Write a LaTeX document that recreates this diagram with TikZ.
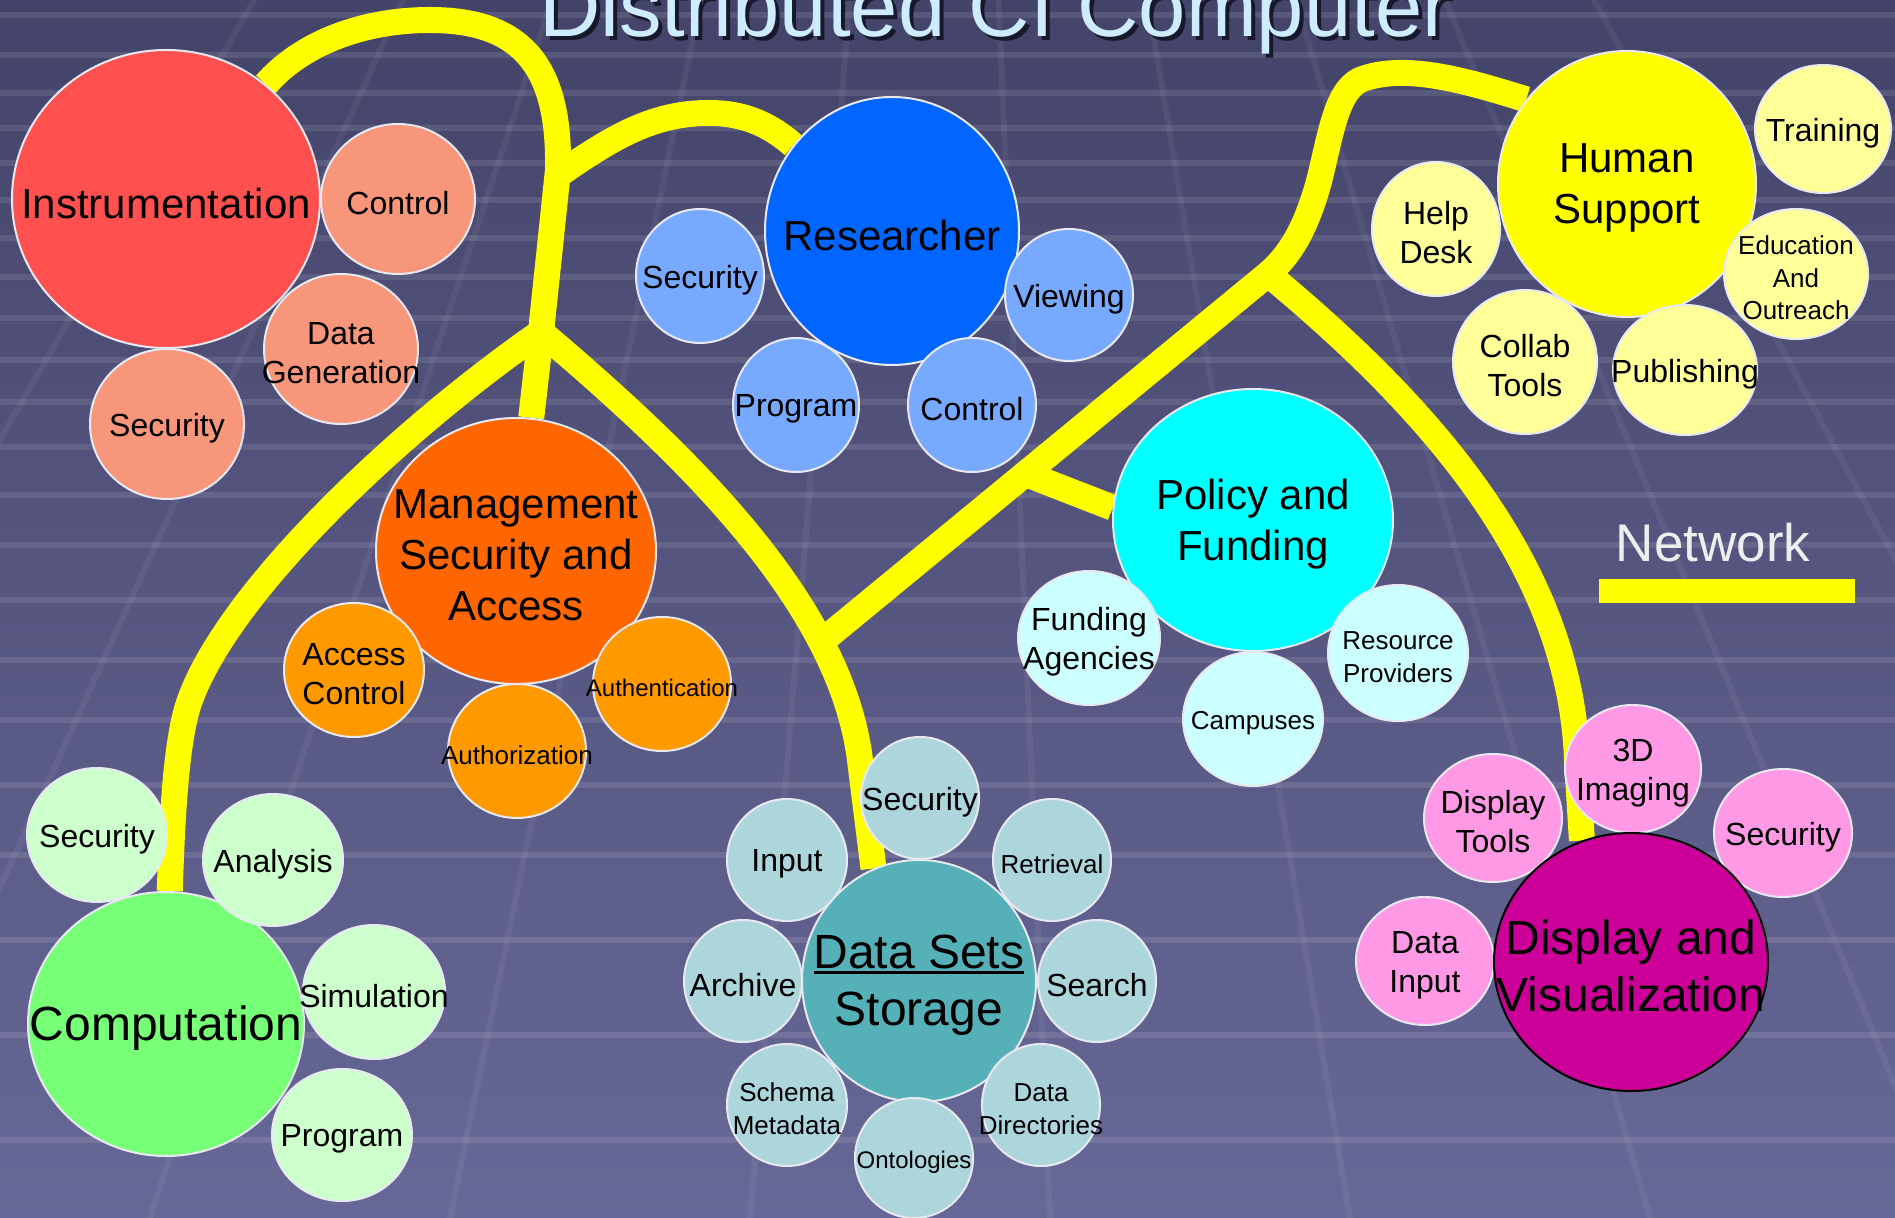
\documentclass[tikz,border=0pt]{standalone}
\usepackage{fontspec}
\setmainfont{Liberation Sans}
\usetikzlibrary{shapes.geometric}

\pgfdeclarelayer{bg}
\pgfdeclarelayer{wire}
\pgfsetlayers{bg,wire,main}

\definecolor{bgtop}{RGB}{68,68,106}
\definecolor{bgbot}{RGB}{104,104,152}
\definecolor{rim}{RGB}{232,232,240}
\definecolor{netyellow}{RGB}{255,255,0}
\definecolor{titleblue}{RGB}{206,236,255}
\definecolor{titleshadow}{RGB}{24,24,44}
\definecolor{netwhite}{RGB}{238,238,238}
\definecolor{instred}{RGB}{255,80,80}
\definecolor{instsub}{RGB}{247,150,122}
\definecolor{resblue}{RGB}{0,102,255}
\definecolor{ressub}{RGB}{119,170,255}
\definecolor{hsyellow}{RGB}{255,255,0}
\definecolor{hssub}{RGB}{255,255,153}
\definecolor{mgmtorange}{RGB}{255,102,0}
\definecolor{mgmtsub}{RGB}{255,153,0}
\definecolor{polcyan}{RGB}{0,255,255}
\definecolor{polsub}{RGB}{204,255,255}
\definecolor{compgreen}{RGB}{119,255,119}
\definecolor{compsub}{RGB}{204,255,204}
\definecolor{dsteal}{RGB}{85,176,184}
\definecolor{dssub}{RGB}{172,214,220}
\definecolor{dvmag}{RGB}{204,0,153}
\definecolor{dvsub}{RGB}{255,153,230}

\newcommand{\thickul}[1]{\setbox0\hbox{#1}\rlap{\rule[-3pt]{\wd0}{1.6pt}}\box0}
\newcommand{\shadowed}[1]{\rlap{\kern2pt\raisebox{-2pt}{\color{titleshadow}#1}}#1}

\begin{document}
\begin{tikzpicture}
[x=0.5pt,y=-0.5pt,
 bub/.style={ellipse,draw=rim,line width=1pt,inner sep=0pt},
 dim/.style 2 args={minimum width=#1pt,minimum height=#2pt},
 txtbig/.style={font=\fontsize{21}{25.5}\selectfont,align=center,yshift=-2pt},
 txtlarge/.style={font=\fontsize{24}{28.5}\selectfont,align=center,yshift=-2pt},
 txtsm/.style={font=\fontsize{16}{19.5}\selectfont,align=center,yshift=-2pt},
 txtxs/.style={font=\fontsize{13}{16.3}\selectfont,align=center,yshift=-2pt},
 txtxxs/.style={font=\fontsize{12}{15}\selectfont,align=center,yshift=-2pt},
 net/.style={draw=netyellow,line width=13pt,line join=round},
 gridline/.style={draw=white,opacity=0.1,line width=3pt},
 gridslant/.style={draw=white,opacity=0.06,line width=3pt}]

\useasboundingbox (0,0) rectangle (1895,1218);

% background
\begin{pgfonlayer}{bg}
\shade[top color=bgtop,bottom color=bgbot] (0,0) rectangle (1895,1218);
\begin{scope}
\clip (0,0) rectangle (1895,1218);
\foreach \y in {15,55,93,128,163,200,238,277,318,360,402,447,495,545,600,660,720,785,855,940,1035,1140}
\draw[gridline] (0,\y) -- (1895,\y);
\foreach \x in {-450,-150,...,2250}
\draw[gridslant] (948,-1200) -- (\x,1218);
\end{scope}
\end{pgfonlayer}

% title
\node[anchor=base,font=\fontsize{42.5}{50}\selectfont,text=titleblue] (title) at (995,37) {\shadowed{Distributed CI Computer}};

% main bubbles
\node[bub,fill=instred,dim={154}{149},label={[txtbig]center:Instrumentation}] (inst) at (166,199) {};
\node[bub,fill=resblue,dim={127}{134},label={[txtbig]center:Researcher}] (res) at (892,231) {};
\node[bub,fill=hsyellow,dim={129}{133},label={[txtbig]center:Human\\Support}] (hs) at (1627,184) {};
\node[bub,fill=mgmtorange,dim={140}{133},label={[txtbig]center:Management\\Security and\\Access}] (mgmt) at (516,551) {};
\node[bub,fill=polcyan,dim={140}{131},label={[txtbig]center:Policy and\\Funding}] (pol) at (1253,520) {};
\node[bub,fill=compgreen,dim={138}{132},label={[txtlarge]center:Computation}] (comp) at (166,1024) {};
\node[bub,fill=dsteal,dim={117}{121},label={[txtlarge]center:\thickul{Data Sets}\\Storage}] (dss) at (919,981) {};

% instrumentation
\node[bub,fill=instsub,dim={77}{75},label={[txtsm]center:Control}] (ictl) at (398,199) {};
\node[bub,fill=instsub,dim={77}{75},label={[txtsm]center:Data\\Generation}] (idg) at (341,349) {};
\node[bub,fill=instsub,dim={77}{75},label={[txtsm]center:Security}] (isec) at (167,424) {};

% researcher
\node[bub,fill=ressub,dim={64}{67},label={[txtsm]center:Security}] (rsec) at (700,276) {};
\node[bub,fill=ressub,dim={64}{66},label={[txtsm]center:Viewing}] (rview) at (1069,295) {};
\node[bub,fill=ressub,dim={63}{67},label={[txtsm]center:Program}] (rprog) at (796,405) {};
\node[bub,fill=ressub,dim={64}{67},label={[txtsm]center:Control}] (rctl) at (972,405) {};

% human support
\node[bub,fill=hssub,dim={68}{64},label={[txtsm]center:Training}] (htrain) at (1823,129) {};
\node[bub,fill=hssub,dim={64}{67},label={[txtsm]center:Help\\Desk}] (hhelp) at (1436,229) {};
\node[bub,fill=hssub,dim={72}{65},label={[txtxs]center:Education\\And\\Outreach}] (hedu) at (1796,274) {};
\node[bub,fill=hssub,dim={72}{72},label={[txtsm]center:Collab\\Tools}] (hcollab) at (1525,362) {};
\node[bub,fill=hssub,dim={72}{65},label={[txtsm]center:Publishing}] (hpub) at (1685,370) {};

% management
\node[bub,fill=mgmtsub,dim={70}{67},label={[txtsm]center:Access\\Control}] (macc) at (354,670) {};
\node[bub,fill=mgmtsub,dim={69}{67},label={[txtxxs]center:Authentication}] (mauthn) at (662,684) {};
\node[bub,fill=mgmtsub,dim={69}{67},label={[txtxs]center:Authorization}] (mauthz) at (517,751) {};

% policy
\node[bub,fill=polsub,dim={71}{67},label={[txtsm]center:Funding\\Agencies}] (pfund) at (1089,638) {};
\node[bub,fill=polsub,dim={70}{68},label={[txtxs]center:Resource\\Providers}] (pres) at (1398,653) {};
\node[bub,fill=polsub,dim={70}{67},label={[txtxs]center:Campuses}] (pcamp) at (1253,719) {};

% computation
\node[bub,fill=compsub,dim={70}{67},label={[txtsm]center:Security}] (csec) at (97,835) {};
\node[bub,fill=compsub,dim={70}{66},label={[txtsm]center:Analysis}] (cana) at (273,860) {};
\node[bub,fill=compsub,dim={71}{67},label={[txtsm]center:Simulation}] (csim) at (374,992) {};
\node[bub,fill=compsub,dim={70}{66},label={[txtsm]center:Program}] (cprog) at (342,1135) {};

% data sets
\node[bub,fill=dssub,dim={59}{61},label={[txtsm]center:Security}] (dsec) at (920,798) {};
\node[bub,fill=dssub,dim={60}{61},label={[txtsm]center:Input}] (din) at (787,860) {};
\node[bub,fill=dssub,dim={59}{61},label={[txtxs]center:Retrieval}] (dret) at (1052,860) {};
\node[bub,fill=dssub,dim={59}{61},label={[txtsm]center:Archive}] (darc) at (743,981) {};
\node[bub,fill=dssub,dim={59}{61},label={[txtsm]center:Search}] (dsea) at (1097,981) {};
\node[bub,fill=dssub,dim={60}{61},label={[txtxs]center:Schema\\Metadata}] (dsch) at (787,1105) {};
\node[bub,fill=dssub,dim={59}{61},label={[txtxs]center:Data\\Directories}] (ddir) at (1041,1105) {};
\node[bub,fill=dssub,dim={59}{60},label={[txtxxs]center:Ontologies}] (dont) at (914,1158) {};

% display
\node[bub,fill=dvsub,dim={68}{64},label={[txtsm]center:3D\\Imaging}] (v3d) at (1633,769) {};
\node[bub,fill=dvsub,dim={69}{64},label={[txtsm]center:Display\\Tools}] (vtools) at (1493,818) {};
\node[bub,fill=dvsub,dim={69}{64},label={[txtsm]center:Security}] (vsec) at (1783,833) {};
\node[bub,fill=dvsub,dim={69}{64},label={[txtsm]center:Data\\Input}] (vinput) at (1425,961) {};
\node[bub,draw=black,fill=dvmag,dim={137}{129},label={[txtlarge]center:Display and\\Visualization}] (dv) at (1631,962) {};

% legend
\node[anchor=base,font=\fontsize{26.5}{30}\selectfont,text=netwhite] (netlabel) at (1713,562) {Network};
\node[fill=netyellow,minimum width=128pt,minimum height=12pt,inner sep=0pt] (netbar) at (1727,591) {};

% network
\coordinate (j1) at (541,332);
\coordinate (jr) at (557,176);
\coordinate (j2) at (1268,274);
\coordinate (j4) at (821,642);
\coordinate (jp) at (1026,474);

\begin{pgfonlayer}{wire}
\draw[net] (inst) .. controls (300,45) and (360,20) .. (430,20) .. controls (525,20) and (560,70) .. (558,170) -- (j1);
\draw[net] (jr) .. controls (615,135) and (655,113) .. (709,113) .. controls (745,113) and (770,125) .. (res);
\draw[net] (j1) -- (mgmt);
\draw[net] (j1) .. controls (400,430) and (230,590) .. (190,700) .. controls (180,727) and (173,780) .. (comp);
\draw[net] (j1) .. controls (680,450) and (840,600) .. (860,760) -- (dss.112);
\draw[net] (hs.140) .. controls (1470,82) and (1405,62) .. (1360,80) .. controls (1335,92) and (1330,140) .. (1318,185) .. controls (1305,230) and (1290,255) .. (j2);
\draw[net] (j2) .. controls (1420,400) and (1570,560) .. (1577,760) -- (dv.112);
\draw[net] (j2) -- (j4);
\draw[net] (jp) -- (pol.175);
\end{pgfonlayer}

\end{tikzpicture}
\end{document}
